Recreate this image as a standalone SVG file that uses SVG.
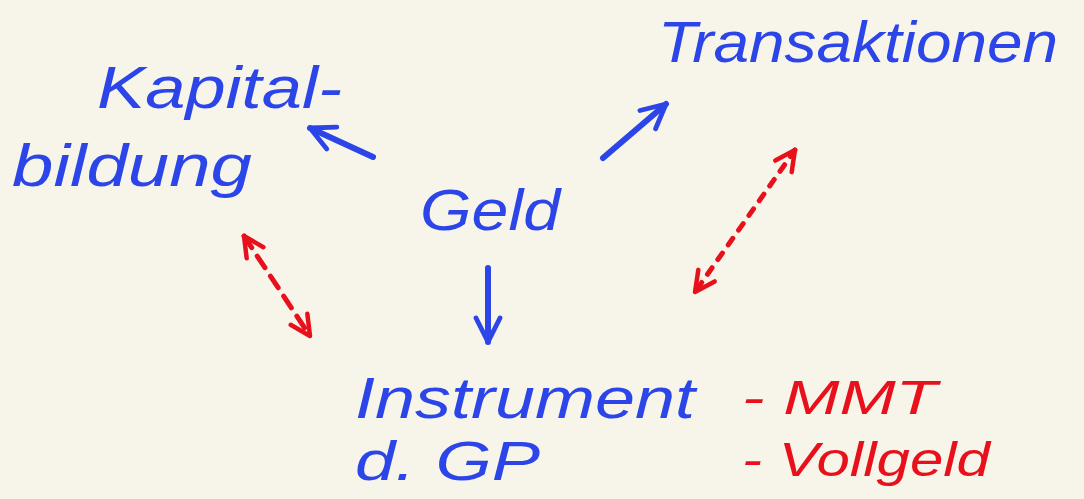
<svg xmlns="http://www.w3.org/2000/svg" width="1084" height="499" viewBox="0 0 1084 499">
<defs>
<style>
.b{fill:#2b45e8;font-family:"Liberation Sans",Arial,sans-serif;font-style:italic;}
.r{fill:#e8111b;font-family:"Liberation Sans",Arial,sans-serif;font-style:italic;}
.cb{stroke:#2b45e8;stroke-width:6;fill:none;stroke-linecap:round;stroke-linejoin:round;}
.cr{stroke:#e8111b;stroke-width:5;fill:none;stroke-linecap:round;stroke-linejoin:round;}
</style>
<marker id="ab" viewBox="0 0 10 10" refX="9" refY="5" markerWidth="5" markerHeight="5" orient="auto-start-reverse" markerUnits="strokeWidth">
<path d="M1,1 L9,5 L1,9" fill="none" stroke="#2b45e8" stroke-width="1.6" stroke-linecap="round" stroke-linejoin="round"/>
</marker>
<marker id="ar" viewBox="0 0 10 10" refX="9" refY="5" markerWidth="5" markerHeight="5" orient="auto-start-reverse" markerUnits="strokeWidth">
<path d="M1,1 L9,5 L1,9" fill="none" stroke="#e8111b" stroke-width="1.8" stroke-linecap="round" stroke-linejoin="round"/>
</marker>
</defs>
<rect width="1084" height="499" fill="#f7f4ea"/>
<g id="connectors">
<line class="cb" x1="373" y1="157" x2="310" y2="128" marker-end="url(#ab)"/>
<line class="cb" x1="603" y1="158" x2="666" y2="104" marker-end="url(#ab)"/>
<line class="cb" x1="488" y1="268" x2="488" y2="342" marker-end="url(#ab)"/>
<line class="cr" x1="244" y1="236" x2="310" y2="336" stroke-dasharray="14 10" marker-start="url(#ar)" marker-end="url(#ar)"/>
<line class="cr" x1="795" y1="150" x2="695" y2="292" stroke-dasharray="8 10" marker-start="url(#ar)" marker-end="url(#ar)"/>
</g>
<g id="kapitalbildung">
<text class="b" x="97" y="108" font-size="60" textLength="245" lengthAdjust="spacingAndGlyphs">Kapital-</text>
<text class="b" x="12" y="186" font-size="60" textLength="240" lengthAdjust="spacingAndGlyphs">bildung</text>
</g>
<g id="transaktionen">
<text class="b" x="658" y="62" font-size="58" textLength="400" lengthAdjust="spacingAndGlyphs">Transaktionen</text>
</g>
<g id="geld">
<text class="b" x="420" y="230" font-size="58" textLength="140" lengthAdjust="spacingAndGlyphs">Geld</text>
</g>
<g id="instrument">
<text class="b" x="355" y="418" font-size="58" textLength="340" lengthAdjust="spacingAndGlyphs">Instrument</text>
<text class="b" x="355" y="480" font-size="56" textLength="185" lengthAdjust="spacingAndGlyphs">d. GP</text>
</g>
<g id="optionen">
<text class="r" x="742" y="414" font-size="48" textLength="195" lengthAdjust="spacingAndGlyphs">- MMT</text>
<text class="r" x="742" y="476" font-size="48" textLength="248" lengthAdjust="spacingAndGlyphs">- Vollgeld</text>
</g>
</svg>
